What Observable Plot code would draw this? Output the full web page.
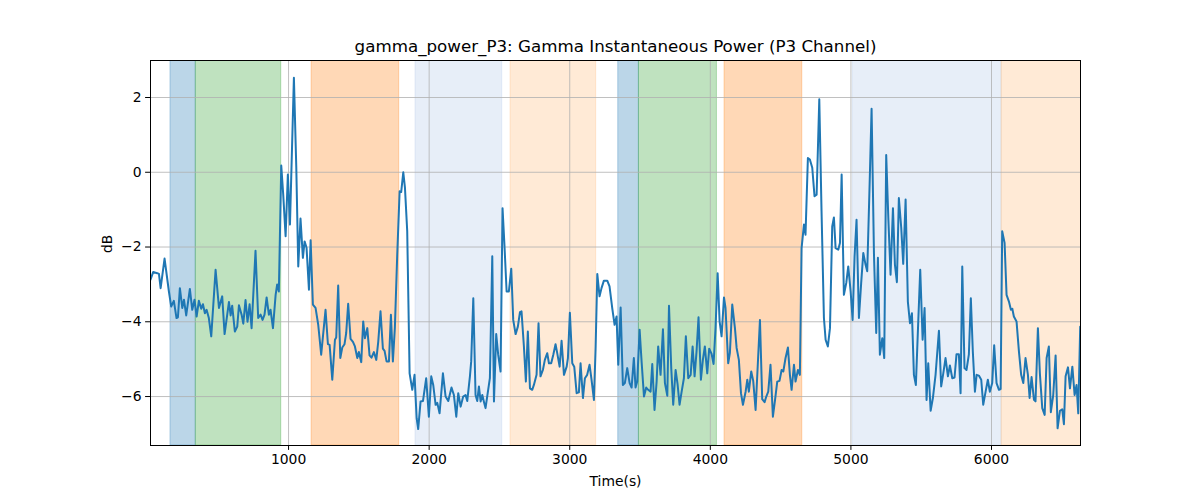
<!DOCTYPE html>
<html>
<head>
<meta charset="utf-8">
<script src="https://cdn.jsdelivr.net/npm/d3@7"></script>
<script src="https://cdn.jsdelivr.net/npm/@observablehq/plot@0.6"></script>
<style>
  html, body { margin: 0; padding: 0; background: #fff; }
  #chart svg { font-family: "DejaVu Sans", sans-serif; }
</style>
</head>
<body>
<div id="chart"></div>
<script>
const titleText = "gamma_power_P3: Gamma Instantaneous Power (P3 Channel)";
const xLabel = "Time(s)";
const yLabel = "dB";
const xTicks = [1000, 2000, 3000, 4000, 5000, 6000];
const yTicks = [-6, -4, -2, 0, 2];

const times = [18,37,66,78,90,118,149,165,184,203,213,227,244,256,272,298,315,331,346,362,379,391,405,417,433,450,481,505,528,545,576,588,599,618,635,647,666,678,694,708,723,737,765,784,801,815,829,844,860,872,889,908,919,931,948,962,979,995,1010,1038,1055,1069,1085,1102,1114,1128,1145,
1157,1173,1192,1211,1232,1263,1280,1292,1311,1330,1339,1353,1368,1382,1398,1410,1424,1441,1458,1472,1489,1500,1517,1531,1543,1560,1576,1590,1607,1624,1638,1654,1671,1683,1697,1714,1728,1742,1756,1773,1790,1801,1816,1828,1844,1861,1880,1896,1911,1922,1939,1956,1979,1998,2015,2029,2046,2058,2074,2098,2117,2136,2159,2176,2193,2207,2224,2242,2259,2271,2290,2299,2314,2330,2342,2354,2366,2378,2389,2401,2418,2432,2449,2461,2477,2491,2508,2522,2536,2551,2567,2584,2598,2615,2631,2646,2657,2674,2688,2702,2717,2733,2745,2764,2778,2792,2809,2823,2840,2852,2868,2883,2899,2911,2928,2942,2959,2978,2987,3001,3018,3032,3049,3065,3077,3094,3108,3124,3141,3155,3172,3184,3196,3212,3226,3243,3267,3283,3302,3319,3333,3345,3362,3378,3392,3409,3426,3440,3456,3468,3480,3497,3511,3528,3544,3558,3575,3587,3603,3618,3629,3646,3663,3677,3694,3706,3722,3736,3753,3767,3781,3796,3812,3826,3843,3860,3874,3888,3902,3916,3933,3947,3961,3978,3992,4009,4023,4037,4052,4066,4080,4097,4108,4127,4139,4156,4175,4187,4203,4218,4232,4251,4263,4274,4291,4305,4322,4338,4353,4369,4386,4398,4412,4428,4445,4459,4476,4492,4507,4519,4535,4552,4566,4578,4595,4606,4623,4637,4649,4666,4677,4694,4708,4725,4741,4756,4775,4791,4808,4820,4836,4851,4867,4879,4891,4910,4922,4934,4950,4967,4981,4998,5012,5026,5040,5057,5073,5088,5104,5116,5133,5147,5164,5180,5192,5206,5223,5237,5251,5266,5282,5299,5313,5327,5341,5358,5372,5389,5405,5420,5434,5448,5462,5479,5493,5510,5524,5538,5550,5567,5583,5602,5626,5642,5657,5673,5690,5704,5721,5737,5751,5768,5780,5792,5808,5822,5839,5853,5867,5882,5894,5910,5927,5941,5958,5974,5988,6005,6019,6036,6053,6065,6076,6093,6107,6124,6138,6148,6159,6178,6195,6211,6226,6242,6259,6271,6285,6302,6313,6330,6344,6361,6378,6392,6408,6422,6439,6456,6470,6487,6503,6515,6527,6544,6558,6575,6591,6605,6617,6631];

const power = [-2.87,-2.67,-2.70,-2.72,-3.10,-2.31,-3.19,-3.59,-3.44,-3.90,-3.88,-3.10,-3.63,-3.41,-3.83,-3.12,-3.68,-3.41,-3.86,-3.44,-3.65,-3.53,-3.77,-3.68,-3.90,-4.39,-2.61,-3.63,-3.32,-4.33,-3.47,-3.83,-3.57,-4.26,-4.13,-3.56,-3.81,-4.05,-3.42,-4.00,-3.53,-4.17,-2.10,-3.90,-3.81,-3.95,-3.81,-3.35,-3.81,-3.68,-4.17,-3.28,-3.00,-3.19,0.18,-0.60,-1.71,-0.06,-1.40,2.53,0.12,-2.52,-1.24,-2.29,-1.85,-2.02,-3.14,
-1.82,-3.54,-3.63,-4.08,-4.88,-3.68,-4.60,-4.62,-5.55,-4.48,-4.42,-3.03,-4.97,-4.69,-4.60,-4.30,-3.52,-4.46,-4.54,-4.66,-4.97,-4.81,-5.08,-3.99,-4.44,-4.17,-4.90,-4.96,-4.81,-5.02,-4.53,-3.72,-4.72,-4.78,-5.06,-5.06,-3.81,-5.06,-4.17,-2.20,-0.51,-0.53,0.00,-0.42,-1.58,-5.38,-5.82,-5.42,-6.58,-6.87,-6.13,-6.12,-5.51,-6.54,-5.46,-5.69,-6.22,-6.17,-6.45,-5.38,-6.00,-6.12,-5.76,-5.96,-6.54,-5.91,-6.27,-6.00,-5.96,-6.12,-5.46,-5.06,-3.37,-5.96,-6.12,-5.73,-6.13,-5.96,-6.13,-6.31,-5.87,-5.51,-2.25,-6.13,-4.33,-4.88,-5.33,-0.96,-1.98,-3.19,-3.19,-2.58,-3.95,-4.33,-4.13,-3.74,-3.72,-4.66,-5.60,-4.26,-5.78,-5.82,-5.69,-5.42,-4.04,-5.46,-5.29,-5.02,-4.84,-5.11,-5.11,-4.88,-4.60,-4.84,-5.20,-4.51,-5.42,-5.20,-4.97,-3.76,-5.11,-5.20,-5.91,-5.89,-5.11,-6.04,-5.51,-5.42,-5.15,-5.55,-6.09,-4.70,-2.72,-3.32,-3.10,-2.90,-2.90,-3.05,-3.63,-4.08,-3.86,-5.15,-3.62,-5.69,-5.64,-5.24,-5.64,-5.76,-4.97,-5.76,-5.60,-4.21,-5.06,-6.00,-5.76,-5.82,-5.87,-5.13,-6.36,-5.60,-4.66,-5.42,-4.20,-5.64,-5.98,-3.57,-5.24,-6.22,-5.29,-5.67,-6.22,-5.87,-5.51,-4.39,-5.51,-5.42,-4.66,-5.46,-4.79,-3.88,-5.55,-5.02,-4.66,-5.38,-4.72,-4.86,-5.13,-4.17,-2.70,-3.99,-4.39,-3.35,-3.63,-5.11,-4.84,-3.54,-4.17,-4.70,-5.02,-5.91,-6.22,-5.87,-5.55,-5.87,-5.33,-5.58,-6.36,-5.11,-3.95,-6.07,-6.15,-6.00,-5.87,-5.15,-6.54,-6.13,-5.60,-5.58,-5.29,-5.33,-4.97,-4.69,-5.42,-5.82,-5.15,-5.60,-5.29,-5.42,-2.03,-1.40,-1.67,0.38,0.34,0.12,-0.64,-0.60,1.95,-1.04,-3.90,-4.48,-4.66,-4.17,-1.45,-1.21,-2.03,-2.07,-1.89,-0.06,-3.28,-2.96,-2.52,-3.19,-3.95,-2.25,-1.27,-3.90,-2.96,-2.16,-2.47,-2.65,-0.33,1.70,-2.20,-4.30,-2.29,-4.88,-4.44,-4.97,0.46,-1.22,-2.74,-0.96,-2.47,-2.94,-0.69,-1.49,-2.45,-0.73,-3.46,-4.04,-3.77,-5.42,-5.69,-3.99,-2.61,-4.48,-3.63,-6.09,-5.11,-6.38,-6.04,-5.42,-4.24,-5.73,-5.38,-4.97,-5.46,-5.17,-5.51,-5.49,-4.87,-4.87,-5.91,-2.52,-5.24,-5.29,-4.87,-3.37,-4.79,-5.87,-5.42,-5.44,-5.55,-6.22,-5.87,-5.55,-5.87,-5.64,-4.63,-5.64,-5.82,-5.80,-1.58,-1.89,-3.28,-3.46,-3.68,-3.65,-3.86,-3.99,-4.79,-5.42,-5.64,-4.97,-5.42,-6.04,-5.48,-6.09,-6.13,-4.17,-5.38,-6.31,-6.49,-4.97,-4.66,-6.42,-5.96,-4.90,-6.85,-6.38,-6.34,-6.74,-5.46,-5.22,-5.78,-5.20,-5.96,-5.69,-6.45,-4.13];

const spanStart = [160, 340, 1164, 1903, 2579, 3345, 3492, 4101, 5012, 6072];
const spanEnd   = [340, 948, 1787, 2520, 3188, 3492, 4047, 4654, 6072, 6700];
const spanKind  = ["blue", "green", "orange", "lightblue", "lightorange", "blue", "green", "orange", "lightblue", "lightorange"];

const kindColor = {blue: "#1f77b4", green: "#2ca02c", orange: "#ff7f0e", lightblue: "#aec7e8", lightorange: "#ffbb78"};

const series = times.map((t, i) => ({t, v: power[i]}));
const spans = spanStart.map((s, i) => ({x1: s, x2: spanEnd[i], c: kindColor[spanKind[i]]}));

const fs = 13.9;
const chart = Plot.plot({
  width: 1200,
  height: 500,
  marginLeft: 150,
  marginRight: 120,
  marginTop: 60,
  marginBottom: 55,
  style: {fontFamily: "DejaVu Sans, sans-serif", fontSize: fs + "px", color: "#000", background: "#fff", overflow: "visible"},
  x: {domain: [18, 6633], label: null},
  y: {domain: [-7.31, 2.99], label: null},
  color: {type: "identity"},
  marks: [
    Plot.rect(spans, {x1: "x1", x2: "x2", fill: "c", fillOpacity: 0.3, stroke: "c", strokeOpacity: 0.3, strokeWidth: 1, clip: true}),
    Plot.gridX(xTicks, {stroke: "#b0b0b0", strokeOpacity: 1, strokeWidth: 0.8}),
    Plot.gridY(yTicks, {stroke: "#b0b0b0", strokeOpacity: 1, strokeWidth: 0.8}),
    Plot.line(series, {x: "t", y: "v", stroke: "#1f77b4", strokeWidth: 2, clip: true}),
    Plot.frame({stroke: "#000", strokeWidth: 1}),
    Plot.axisX(xTicks, {tickSize: 4.9, tickPadding: 4, fontSize: fs, stroke: "#000", label: null, tickFormat: d => String(d)}),
    Plot.axisY(yTicks, {tickSize: 4.9, tickPadding: 4, fontSize: fs, stroke: "#000", label: null, tickFormat: d => d < 0 ? "\u2212" + Math.abs(d) : String(d)}),
    Plot.text([titleText], {frameAnchor: "top", lineAnchor: "middle", dy: -14, fontSize: 16.7, fill: "#000", textAnchor: "middle"}),
    Plot.text([xLabel], {frameAnchor: "bottom", lineAnchor: "middle", dy: 36, fontSize: fs, fill: "#000"}),
    Plot.text([yLabel], {frameAnchor: "left", lineAnchor: "middle", dx: -43, rotate: -90, fontSize: fs, fill: "#000"})
  ]
});
document.getElementById("chart").appendChild(chart);
</script>
</body>
</html>
